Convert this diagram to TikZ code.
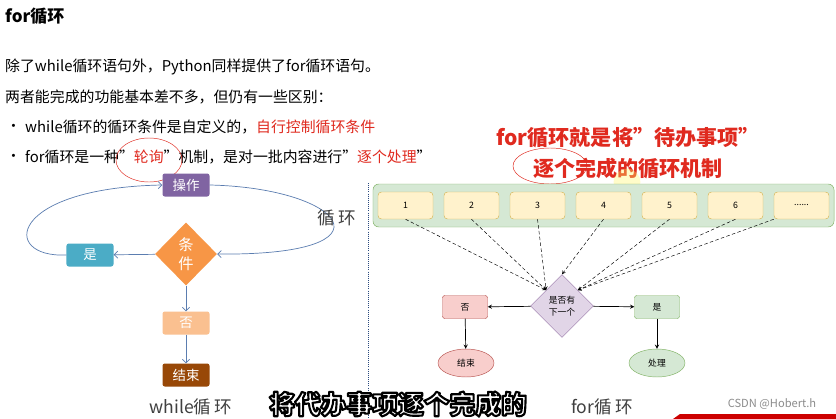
\documentclass[tikz,border=0pt]{standalone}
\usepackage{fontspec}
\setmainfont{Noto Sans CJK SC}
\usetikzlibrary{shapes.geometric,arrows.meta}

\definecolor{oppurple}{HTML}{8064A2}
\definecolor{yesblue}{HTML}{4BACC6}
\definecolor{condorange}{HTML}{F79646}
\definecolor{nolight}{HTML}{FAC090}
\definecolor{endbrown}{HTML}{984807}
\definecolor{loopline}{HTML}{5B7DB0}
\definecolor{hlred}{HTML}{E02A1F}
\definecolor{boxfill}{HTML}{FFF2CC}
\definecolor{boxline}{HTML}{D6B656}
\definecolor{greenfill}{HTML}{D5E8D4}
\definecolor{greenline}{HTML}{82B366}
\definecolor{redfill}{HTML}{F8CECC}
\definecolor{redline}{HTML}{B85450}
\definecolor{purplefill}{HTML}{E1D5E7}
\definecolor{purpleline}{HTML}{9673A6}
\definecolor{divline}{HTML}{2B4A7E}

% outlined subtitle text (fill white, stroke black)
\newcommand{\outlined}[1]{%
  \special{pdf:literal direct 2 Tr 1.8 w 1 j 0 0 0 RG 1 1 1 rg}#1\special{pdf:literal direct 0 Tr 0.4 w 0 j 0 0 0 rg}}

\begin{document}
\begin{tikzpicture}[
        x=0.03cm, y=-0.03cm,
        body/.style={anchor=west, inner sep=0pt, font=\fontsize{12.7}{15}\selectfont},
        wbox/.style={rectangle, rounded corners=2pt, minimum width=1.41cm, minimum height=0.69cm, inner sep=0pt, text=white, font=\fontsize{11.5}{13}\selectfont},
        wline/.style={-{Straight Barb[length=3pt,width=6pt]}, draw=loopline, semithick},
        item/.style={rectangle, rounded corners=3pt, draw=boxline, fill=boxfill, minimum width=1.65cm, minimum height=0.81cm, inner sep=0pt, font=\fontsize{7.5}{9}\selectfont},
        small/.style={inner sep=0pt, font=\fontsize{7.5}{9}\selectfont},
        arrow/.style={->, >=stealth, semithick},
        dasharrow/.style={->, >=stealth, densely dashed, thin},
        caption/.style={inner sep=0pt, text=black!75, font=\fontsize{15}{17}\selectfont}
    ]
    \useasboundingbox[fill=white] (0,0) rectangle (836,419);

    % heading and text
    \node[body, font=\fontsize{14.5}{17}\selectfont\bfseries] (title) at (5,16) {for循环};
    \node[body] (line1) at (5,67) {除了while循环语句外，Python同样提供了for循环语句。};
    \node[body] (line2) at (5,97) {两者能完成的功能基本差不多，但仍有一些区别：};
    \node[body] (dot1) at (6,128) {•};
    \node[body] (item1) at (25,127) {while循环的循环条件是自定义的，\textcolor{hlred}{自行控制循环条件}};
    \node[body] (dot2) at (6,158) {•};
    \node[body] (item2) at (25,157) {for循环是一种”\textcolor{hlred}{轮询}”机制，是对一批内容进行”\textcolor{hlred}{逐个处理}”};
    \draw[hlred, thin] (149,160) ellipse [x radius=0.99cm, y radius=0.66cm];

    % while loop
    \node[wbox, fill=oppurple] (op) at (186,185) {操作};
    \node[diamond, fill=condorange, minimum width=1.86cm, minimum height=1.89cm, inner sep=0pt, text=white, align=center, font=\fontsize{13}{16}\selectfont] (cond) at (186,254) {条\\件};
    \node[wbox, fill=yesblue] (yes) at (90,255) {是};
    \node[wbox, fill=nolight] (no) at (186,323) {否};
    \node[wbox, fill=endbrown] (stop) at (186,375) {结束};
    \draw[wline] (cond) -- (yes);
    \draw[wline] (cond) -- (no);
    \draw[wline] (no) -- (stop);
    \draw[wline] (yes.west) .. controls (0,258) and (8,188) .. (op.west);
    \draw[wline] (op.east) .. controls (345,188) and (400,256) .. (cond.east);
    \node[caption] (looplbl) at (337,218) {循\hspace{3pt}环};
    \node[caption] (whilelbl) at (191,407) {while循\hspace{3pt}环};

    \draw[divline, densely dotted, thick] (368,183) -- (368,419);

    % note
    \node[inner sep=0pt, text=hlred, align=center, font=\fontsize{18}{27}\selectfont\bfseries] (note) at (628,153) {for循环就是将”待办事项”\\逐个完成的循环机制};
    \draw[hlred, thin] (550,166) ellipse [x radius=1.11cm, y radius=0.54cm];
    \fill[yellow!60, opacity=0.35] (627,182) circle [radius=0.4cm];

    % for loop
    \node[rectangle, rounded corners=5pt, draw=greenline, fill=greenfill, minimum width=13.83cm, minimum height=1.29cm] (todo) at (603.5,205.5) {};
    \node[item] (b1) at (405.5,205.5) {1};
    \node[item] (b2) at (471.5,205.5) {2};
    \node[item] (b3) at (537.5,205.5) {3};
    \node[item] (b4) at (603.5,205.5) {4};
    \node[item] (b5) at (669.5,205.5) {5};
    \node[item] (b6) at (735.5,205.5) {6};
    \node[item] (b7) at (801.5,205.5) {......};
    \node[diamond, draw=purpleline, fill=purplefill, minimum width=1.89cm, minimum height=1.89cm, inner sep=0pt, align=center, font=\fontsize{7.5}{10}\selectfont] (next) at (562,306) {是否有\\下一个};
    \node[rectangle, rounded corners=2pt, draw=redline, fill=redfill, minimum width=1.35cm, minimum height=0.69cm, small] (fno) at (465,307) {否};
    \node[rectangle, rounded corners=2pt, draw=greenline, fill=greenfill, minimum width=1.35cm, minimum height=0.69cm, small] (fyes) at (657,307) {是};
    \node[ellipse, draw=redline, fill=redfill, minimum width=1.68cm, minimum height=0.84cm, small] (fend) at (466,363) {结束};
    \node[ellipse, draw=greenline, fill=greenfill, minimum width=1.68cm, minimum height=0.84cm, small] (fdo) at (657,363) {处理};
    \draw[dasharrow] (b1.south) -- (next.north west);
    \draw[dasharrow] (b2.south) -- (next.north west);
    \draw[dasharrow] (b3.south) -- (next.north west);
    \draw[dasharrow] (b4.south) -- (next.north);
    \draw[dasharrow] (b5.south) -- (next.north east);
    \draw[dasharrow] (b6.south) -- (next.north east);
    \draw[dasharrow] (b7.south west) -- (next.north east);
    \draw[arrow] (next) -- (fno);
    \draw[arrow] (next) -- (fyes);
    \draw[arrow] (fno) -- (fend);
    \draw[arrow] (fyes) -- (fdo);
    \node[caption] (forlbl) at (602,407) {for循\hspace{3pt}环};

    % subtitle and watermark
    \node[inner sep=0pt, font=\fontsize{22}{26}\selectfont\bfseries] (subtitle) at (398,404) {\outlined{将代办事项逐个完成的}};
    \node[inner sep=0pt, text=black!45, font=\fontsize{9.5}{11}\selectfont] (mark) at (772,404) {CSDN @Hobert.h};
    \fill[red!80!black] (673,419) -- (680,414) -- (836,414) -- (836,419) -- cycle;
\end{tikzpicture}
\end{document}
